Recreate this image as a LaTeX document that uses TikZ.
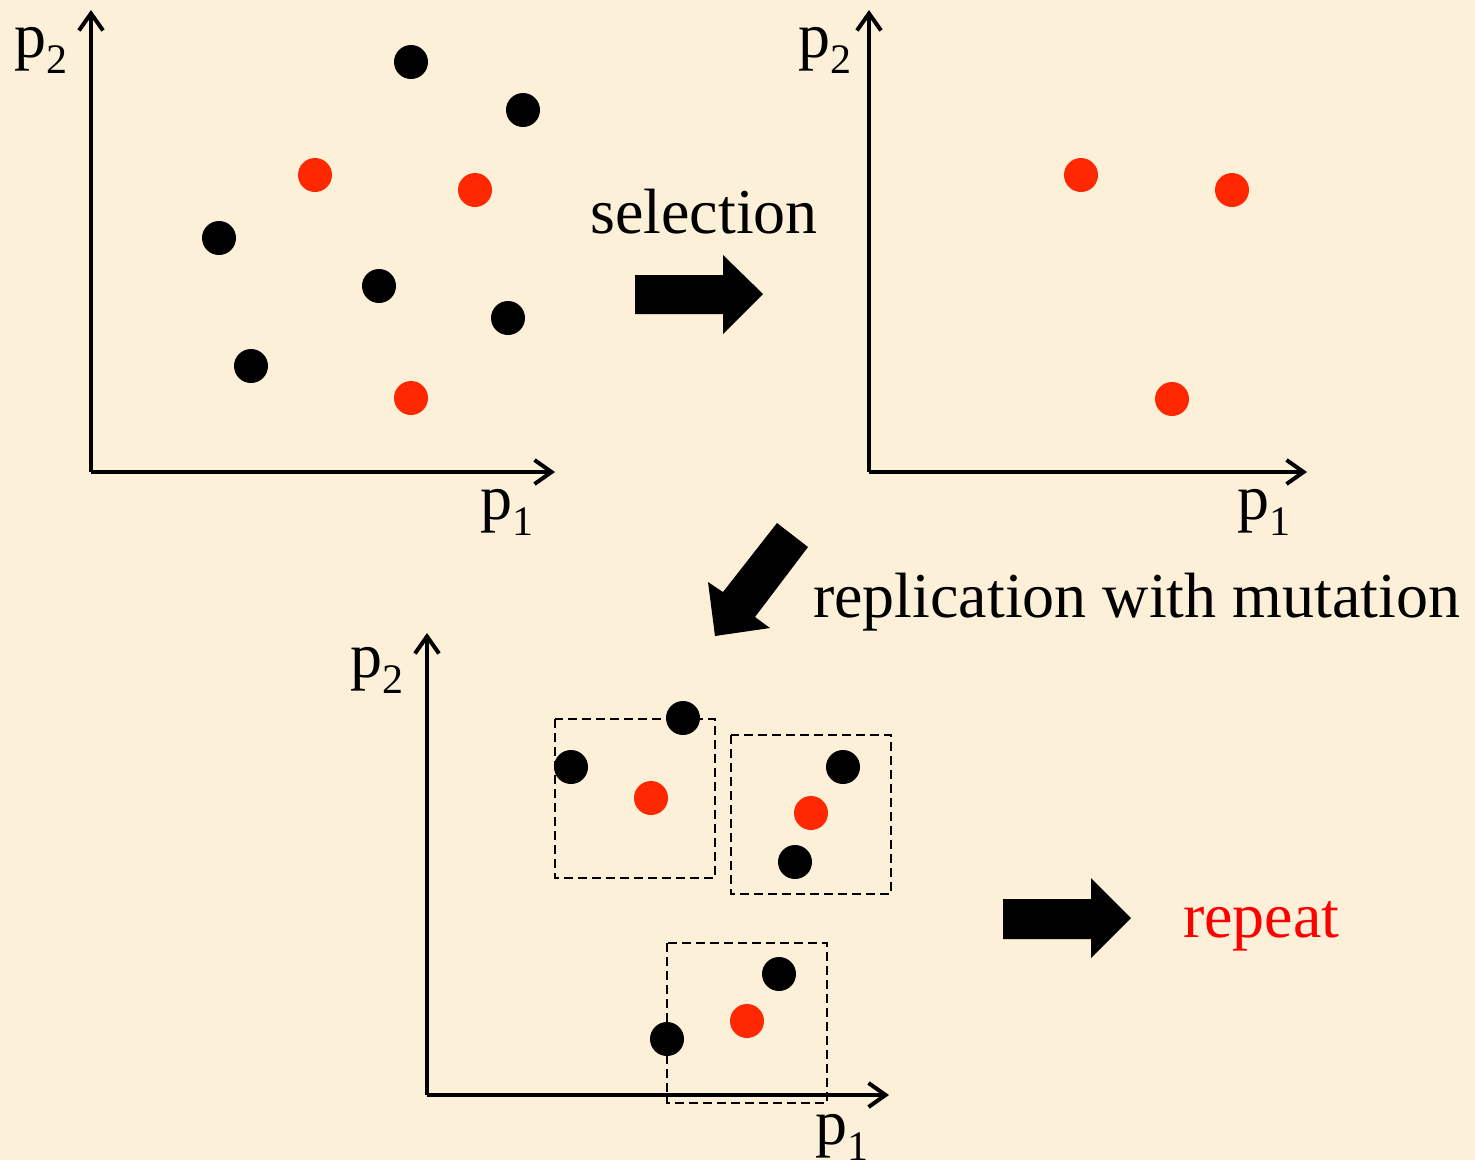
\documentclass[tikz,border=0pt]{standalone}
\usepackage{fontspec}
\setmainfont{Liberation Serif}
\usetikzlibrary{arrows.meta}
\definecolor{bgc}{RGB}{252,241,216}
\definecolor{dotred}{RGB}{255,40,0}
\definecolor{txtred}{RGB}{255,0,0}
\newcommand\plab[1]{p\raisebox{-16pt}{\fontsize{42}{42}\selectfont #1}}
\tikzset{
  axis/.style={line width=3.5pt,-{Straight Barb[length=17pt,width=24pt,line width=4pt]}},
  bdot/.style={circle,fill=black,minimum size=34pt,inner sep=0pt},
  rdot/.style={circle,fill=dotred,minimum size=34pt,inner sep=0pt},
  lab/.style={inner sep=0pt,anchor=base west,font=\fontsize{64}{70}\selectfont},
  bigarrow/.style={fill=black},
  grp/.style={draw=black,line width=2.6pt,dash pattern=on 9pt off 5pt},
}
\begin{document}
\begin{tikzpicture}[x=1pt,y=-1pt]
\fill[bgc] (0,0) rectangle (1475,1160);
\useasboundingbox (0,0) rectangle (1475,1160);

% panel 1
\coordinate (o1) at (91,472);
\coordinate (y1) at (91,10);
\coordinate (x1) at (555,472);
\draw[axis] (o1) -- (y1);
\draw[axis] (o1) -- (x1);
\node[lab] (p2a) at (14,57) {\plab{2}};
\node[lab] (p1a) at (480,519) {\plab{1}};
\node[bdot] (a1) at (411,62) {};
\node[bdot] (a2) at (523,110) {};
\node[bdot] (a3) at (219,238) {};
\node[bdot] (a4) at (379,286) {};
\node[bdot] (a5) at (508,318) {};
\node[bdot] (a6) at (251,366) {};
\node[rdot] (a7) at (315,175) {};
\node[rdot] (a8) at (475,190) {};
\node[rdot] (a9) at (411,398) {};

% selection
\node[lab,anchor=base] (sel) at (704,233) {selection};
\fill[bigarrow] (635,275) -- (723,275) -- (723,255) -- (763,294) -- (723,334) -- (723,314) -- (635,314) -- cycle;

% panel 2
\coordinate (o2) at (869,472);
\coordinate (y2) at (869,10);
\coordinate (x2) at (1307,472);
\draw[axis] (o2) -- (y2);
\draw[axis] (o2) -- (x2);
\node[lab] (p2b) at (798,57) {\plab{2}};
\node[lab] (p1b) at (1237,519) {\plab{1}};
\node[rdot] (b1) at (1081,175) {};
\node[rdot] (b2) at (1232,190) {};
\node[rdot] (b3) at (1172,399) {};

% replication arrow
\fill[bigarrow] (777,523) -- (808,547) -- (755,617) -- (770,628) -- (715,636) -- (708,582) -- (723,592) -- cycle;
\node[lab] (rep) at (813,617) {replication with mutation};

% panel 3
\coordinate (o3) at (427,1095);
\coordinate (y3) at (427,633);
\coordinate (x3) at (889,1095);
\draw[axis] (o3) -- (y3);
\draw[axis] (o3) -- (x3);
\node[lab] (p2c) at (350,677) {\plab{2}};
\node[lab] (p1c) at (815,1144) {\plab{1}};

\draw[grp] (555,719) rectangle (715,878);
\draw[grp] (731,735) rectangle (891,894);
\draw[grp] (667,943) rectangle (827,1103);

\node[bdot] (c1) at (683,718) {};
\node[bdot] (c2) at (571,767) {};
\node[rdot] (c3) at (651,798) {};
\node[bdot] (c4) at (843,767) {};
\node[rdot] (c5) at (811,813) {};
\node[bdot] (c6) at (795,862) {};
\node[bdot] (c7) at (779,974) {};
\node[rdot] (c8) at (747,1021) {};
\node[bdot] (c9) at (667,1039) {};

% repeat
\fill[bigarrow] (1003,899) -- (1091,899) -- (1091,878) -- (1131,918) -- (1091,958) -- (1091,939) -- (1003,939) -- cycle;
\node[lab,text=txtred] (rpt) at (1183,937) {repeat};
\end{tikzpicture}
\end{document}
